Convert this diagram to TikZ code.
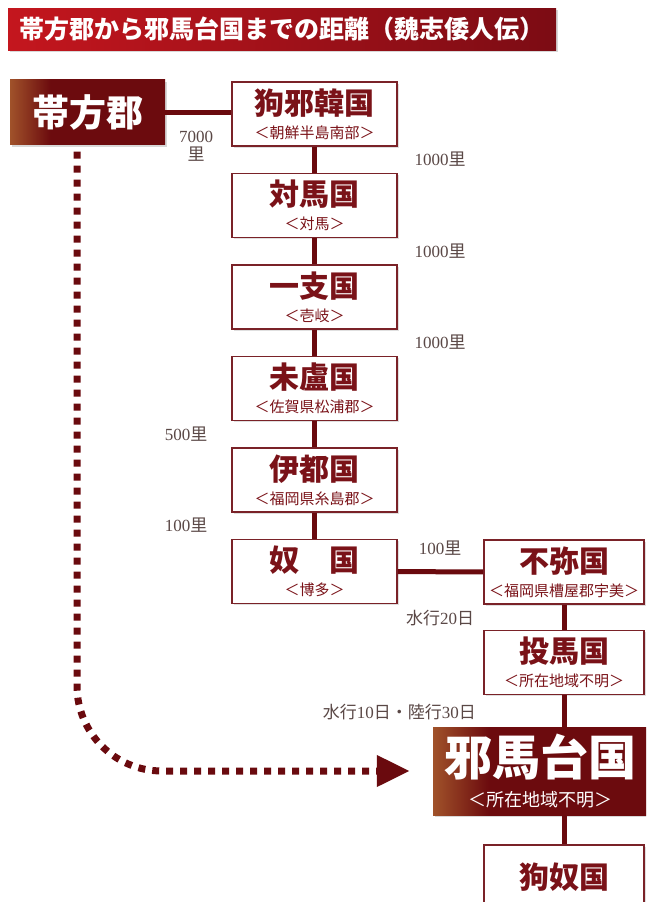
\documentclass[tikz,border=0pt]{standalone}
\usepackage{fontspec}
\newfontfamily\jp{Noto Sans CJK JP}
\newfontfamily\numf{Liberation Serif}
\usetikzlibrary{shapes,arrows.meta,positioning,shadows}

\definecolor{kred}{HTML}{7A1218}
\definecolor{kborder}{HTML}{7A2228}
\definecolor{kline}{HTML}{6A0A0E}
\definecolor{kgray}{HTML}{5A4846}
\definecolor{darkbg}{HTML}{6C0B0E}
\definecolor{lightbg}{HTML}{A0522A}
\definecolor{barleft}{HTML}{C4161E}
\definecolor{barright}{HTML}{7C0C14}

\pgfdeclarehorizontalshading{darkgrad}{100bp}{color(0bp)=(lightbg); color(25bp)=(lightbg); color(38bp)=(darkbg); color(100bp)=(darkbg)}

\tikzstyle{kuni} = [rectangle, draw=kborder, line width=1.6pt, fill=white, minimum width=165pt, minimum height=64pt, inner sep=0pt, align=center, text=kred, font=\jp\fontsize{15}{24}\selectfont, drop shadow={opacity=0.25, shadow xshift=1.5pt, shadow yshift=-1.5pt}]
\tikzstyle{dark} = [rectangle, shade, shading=darkgrad, inner sep=0pt, align=center, text=white, drop shadow={opacity=0.3, shadow xshift=2pt, shadow yshift=-2pt}]
\tikzstyle{titlebar} = [rectangle, left color=barleft, right color=barright, minimum width=548pt, minimum height=42pt, inner sep=0pt, text=white, font=\jp\bfseries\fontsize{25}{28}\selectfont, drop shadow={opacity=0.3, shadow xshift=2pt, shadow yshift=-2pt}]
\tikzstyle{line} = [draw=kline, line width=5pt]
\tikzstyle{dist} = [text=kgray, inner sep=0pt, font=\jp\fontsize{17}{22}\selectfont]
\tikzstyle{dotarrow} = [draw=kline, line width=7pt, dash pattern=on 7pt off 7pt, dash phase=7pt, rounded corners=85pt, -{Triangle[length=33pt,width=30pt]}]

\newcommand{\kname}[1]{{\fontsize{30}{34}\selectfont\bfseries #1}}
\newcommand{\ksub}[1]{{\fontsize{15}{17}\selectfont #1}}

\begin{document}
\begin{tikzpicture}[x=1pt,y=-1pt]
	\useasboundingbox (0,0) rectangle (646,902);
	\fill [white] (0,0) rectangle (646,902);
	\clip (0,0) rectangle (646,902);

	\node [titlebar] (title) at (282,29) {帯方郡から邪馬台国までの距離（魏志倭人伝）};

	\node [dark, minimum width=155pt, minimum height=65pt, font=\jp\bfseries\fontsize{37}{40}\selectfont] (taiho) at (87.5,112) {帯方郡};

	\node [kuni] (kuyakan) at (314.5,114) {\kname{狗邪韓国}\\\ksub{＜朝鮮半島南部＞}};
	\node [kuni] (tsushima) at (314.5,205.5) {\kname{対馬国}\\\ksub{＜対馬＞}};
	\node [kuni] (iki) at (314.5,297) {\kname{一支国}\\\ksub{＜壱岐＞}};
	\node [kuni] (matsuro) at (314.5,388.5) {\kname{未盧国}\\\ksub{＜佐賀県松浦郡＞}};
	\node [kuni] (ito) at (314.5,480) {\kname{伊都国}\\\ksub{＜福岡県糸島郡＞}};
	\node [kuni] (na) at (314.5,571.5) {\kname{奴　国}\\\ksub{＜博多＞}};
	\node [kuni, minimum width=160pt] (fumi) at (564,572) {\kname{不弥国}\\\ksub{＜福岡県槽屋郡宇美＞}};
	\node [kuni, minimum width=160pt] (toma) at (564,662.5) {\kname{投馬国}\\\ksub{＜所在地域不明＞}};
	\node [dark, minimum width=214pt, minimum height=88pt, font=\jp\fontsize{18}{31}\selectfont] (yamatai) at (540,771) {{\bfseries\fontsize{48}{50}\selectfont 邪馬台国}\\＜所在地域不明＞};
	\node [kuni, minimum width=160pt] (kuna) at (564,877) {\kname{狗奴国}};

	% distances
	\node [dist, align=center, font=\jp\fontsize{17}{18}\selectfont] (d0) at (196,146) {{\numf 7000}\\里};
	\node [dist] (d1) at (440,159) {{\numf 1000}里};
	\node [dist] (d2) at (440,251) {{\numf 1000}里};
	\node [dist] (d3) at (440,342) {{\numf 1000}里};
	\node [dist] (d4) at (186,434) {{\numf 500}里};
	\node [dist] (d5) at (186,525) {{\numf 100}里};
	\node [dist] (d6) at (440,548) {{\numf 100}里};
	\node [dist] (d7) at (440,618) {水行{\numf 20}日};
	\node [dist, anchor=east] (d8) at (476,712) {水行{\numf 10}日・陸行{\numf 30}日};

	\path [line] (taiho.east) -- (taiho.east -| kuyakan.west);
	\path [line] (kuyakan) -- (tsushima);
	\path [line] (tsushima) -- (iki);
	\path [line] (iki) -- (matsuro);
	\path [line] (matsuro) -- (ito);
	\path [line] (ito) -- (na);
	\path [line] (na) -- (fumi);
	\path [line] (fumi) -- (toma);
	\path [line] (toma) -- (toma |- yamatai.north);
	\path [line] (toma |- yamatai.south) -- (kuna);

	\draw [dotarrow] ([xshift=-10.5pt]taiho.south) |- ([xshift=-23pt]yamatai.west);
\end{tikzpicture}
\end{document}
